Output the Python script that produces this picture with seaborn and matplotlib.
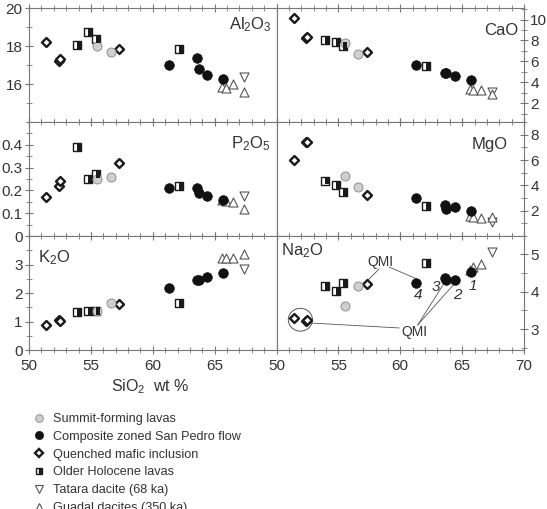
import numpy as np
import pandas as pd
import matplotlib
matplotlib.use("Agg")
import matplotlib.pyplot as plt
import seaborn as sns
from matplotlib.lines import Line2D
from matplotlib.markers import MarkerStyle
from matplotlib.patches import Ellipse
from matplotlib.ticker import MultipleLocator

# --- data ---------------------------------------------------------------
oxides = ["Al2O3", "CaO", "P2O5", "MgO", "K2O", "Na2O"]

qmi_sio2 = [51.4, 52.4, 52.5, 57.3]
qmi_vals = {
    "Al2O3": [18.2, 17.2, 17.3, 17.85],
    "CaO": [10.15, 8.25, 8.3, 6.9],
    "P2O5": [0.17, 0.22, 0.24, 0.32],
    "MgO": [6.0, 7.45, 7.4, 3.27],
    "K2O": [0.89, 1.06, 1.03, 1.62],
    "Na2O": [3.29, 3.22, 3.24, 4.2],
}

holo_sio2 = [53.9, 54.8, 55.4, 62.1]
holo_vals = {
    "Al2O3": [18.04, 18.74, 18.37, 17.84],
    "CaO": [8.07, 7.85, 7.5, 5.55],
    "P2O5": [0.39, 0.25, 0.27, 0.22],
    "MgO": [4.38, 4.0, 3.47, 2.37],
    "K2O": [1.32, 1.37, 1.38, 1.64],
    "Na2O": [4.15, 4.02, 4.22, 4.76],
}

summit_sio2 = [55.5, 56.6]
summit_vals = {
    "Al2O3": [18.02, 17.7],
    "CaO": [7.75, 6.7],
    "P2O5": [0.25, 0.26],
    "MgO": [4.71, 3.9],
    "K2O": [1.37, 1.66],
    "Na2O": [3.62, 4.15],
}

sp_sio2 = [61.3, 63.6, 63.7, 64.4, 65.7]
sp_vals = {
    "Al2O3": [16.98, 17.38, 16.77, 16.46, 16.26],
    "CaO": [5.65, 4.9, 4.85, 4.6, 4.2],
    "P2O5": [0.21, 0.21, 0.19, 0.175, 0.16],
    "MgO": [3.0, 2.44, 2.1, 2.3, 1.98],
    "K2O": [2.18, 2.47, 2.45, 2.55, 2.7],
    "Na2O": [4.24, 4.37, 4.3, 4.32, 4.52],
}

tatara_sio2 = [67.4]
tatara_vals = {
    "Al2O3": [16.38], "CaO": [3.05], "P2O5": [0.175],
    "MgO": [1.12], "K2O": [2.83], "Na2O": [5.07],
}

guadal_sio2 = [65.6, 65.9, 66.5, 67.4]
guadal_vals = {
    "Al2O3": [15.83, 15.77, 16.0, 15.58],
    "CaO": [3.35, 3.3, 3.24, 2.85],
    "P2O5": [0.16, 0.155, 0.15, 0.12],
    "MgO": [1.55, 1.5, 1.4, 1.48],
    "K2O": [3.23, 3.23, 3.23, 3.38],
    "Na2O": [4.58, 4.65, 4.73, np.nan],
}

groups = [
    ("Older Holocene lavas", holo_sio2, holo_vals),
    ("Quenched mafic inclusion", qmi_sio2, qmi_vals),
    ("Tatara dacite (68 ka)", tatara_sio2, tatara_vals),
    ("Guadal dacites (350 ka)", guadal_sio2, guadal_vals),
    ("Composite zoned San Pedro flow", sp_sio2, sp_vals),
    ("Summit-forming lavas", summit_sio2, summit_vals),
]

rows = []
for name, sio2, vals in groups:
    for ox in oxides:
        for s, v in zip(sio2, vals[ox]):
            rows.append({"group": name, "SiO2": s, "oxide": ox, "value": v})
df = pd.DataFrame(rows)

# --- styling --------------------------------------------------------------
sns.set_style("ticks")
plt.rcParams["font.family"] = ["Liberation Sans", "DejaVu Sans"]
plt.rcParams["mathtext.default"] = "regular"

INK = "#333333"
FRAME = "#777777"

styles = {
    "Summit-forming lavas": dict(marker="o", s=42, color="#cfcfcf", edgecolor="#8f8f8f", linewidth=0.7),
    "Composite zoned San Pedro flow": dict(marker="o", s=48, color="#111111", edgecolor="#111111", linewidth=0.5),
    "Quenched mafic inclusion": dict(marker="D", s=21, color="white", edgecolor="#1a1a1a", linewidth=1.7),
    "Older Holocene lavas": dict(marker="s", s=32, color="white", edgecolor="#1a1a1a", linewidth=1.0),
    "Tatara dacite (68 ka)": dict(marker="v", s=42, color="white", edgecolor="#555555", linewidth=0.8),
    "Guadal dacites (350 ka)": dict(marker="^", s=42, color="white", edgecolor="#555555", linewidth=0.8),
}

panel_cfg = {
    "Al2O3": dict(ylim=(14, 20), ticks=[16, 18, 20], minor=1, label="Al$_2$O$_3$", pos=(0.98, 0.85), ha="right"),
    "CaO": dict(ylim=(0.2, 11.1), ticks=[2, 4, 6, 8, 10], minor=1, label="CaO", pos=(0.976, 0.80), ha="right"),
    "P2O5": dict(ylim=(0, 0.5), ticks=[0, 0.1, 0.2, 0.3, 0.4], minor=0.05, label="P$_2$O$_5$", pos=(0.976, 0.81), ha="right"),
    "MgO": dict(ylim=(0, 9), ticks=[2, 4, 6, 8], minor=1, label="MgO", pos=(0.935, 0.80), ha="right"),
    "K2O": dict(ylim=(0, 4), ticks=[0, 1, 2, 3], minor=0.5, label="K$_2$O", pos=(0.036, 0.81), ha="left"),
    "Na2O": dict(ylim=(2.44, 5.49), ticks=[3, 4, 5], minor=0.5, label="Na$_2$O", pos=(0.02, 0.87), ha="left"),
}
tick_text = {"P2O5": ["0", "0.1", "0.2", "0.3", "0.4"]}

fig, axes = plt.subplots(3, 2, figsize=(5.47, 5.09), dpi=100)
fig.subplots_adjust(left=29 / 547, right=524 / 547, top=1 - 8 / 509, bottom=1 - 350 / 509,
                    wspace=0, hspace=0)

for ax, ox in zip(axes.flat, oxides):
    sub = df[df["oxide"] == ox]
    for name, _, _ in groups:
        g = sub[sub["group"] == name]
        st = dict(styles[name])
        sns.scatterplot(data=g, x="SiO2", y="value", ax=ax, legend=False, zorder=3, **st)
        if name == "Older Holocene lavas":
            # black right half on top of the open square
            sns.scatterplot(data=g, x="SiO2", y="value", ax=ax, legend=False, zorder=3.1,
                            marker=MarkerStyle("s", fillstyle="right"), s=st["s"],
                            color="#1a1a1a", edgecolor="none", linewidth=0)

    cfg = panel_cfg[ox]
    ax.set_xlim(50, 70)
    ax.set_ylim(*cfg["ylim"])
    ax.set_xlabel("")
    ax.set_ylabel("")
    ax.set_yticks(cfg["ticks"], tick_text.get(ox, [f"{t:g}" for t in cfg["ticks"]]))
    ax.yaxis.set_minor_locator(MultipleLocator(cfg["minor"]))
    ax.xaxis.set_minor_locator(MultipleLocator(1))
    ax.text(*cfg["pos"], cfg["label"], transform=ax.transAxes, ha=cfg["ha"], va="center",
            fontsize=12, color=INK)

    for sp in ax.spines.values():
        sp.set_visible(True)
        sp.set_color(FRAME)
        sp.set_linewidth(0.8)
    ax.tick_params(axis="x", which="both", direction="inout", top=True, bottom=True,
                   color=FRAME, labelsize=11, labelcolor=INK)
    ax.tick_params(axis="x", which="major", length=6)
    ax.tick_params(axis="x", which="minor", length=4)
    ax.tick_params(axis="y", which="both", direction="inout", color=FRAME,
                   labelsize=11, labelcolor=INK, pad=1.5)
    ax.tick_params(axis="y", which="major", length=6)
    ax.tick_params(axis="y", which="minor", length=4)

for ax in axes[:, 1]:
    ax.yaxis.tick_right()
    ax.yaxis.set_label_position("right")
for ax in axes[:2].flat:
    ax.tick_params(axis="x", labelbottom=False)
axes[2, 0].set_xticks([50, 55, 60, 65])
axes[2, 1].set_xticks([50, 55, 60, 65, 70])

# --- Na2O annotations -------------------------------------------------------
na = axes[2, 1]
ann = dict(color="#555555", lw=0.6, zorder=2)
na.add_patch(Ellipse((51.93, 3.25), 1.95, 0.61, fill=False, edgecolor="#555555", lw=0.7))
na.plot([52.87, 59.92], [3.16, 3.03], **ann)
na.plot([61.41, 63.44], [3.11, 4.17], **ann)
na.plot([61.41, 64.39], [3.11, 4.22], **ann)
na.plot([59.1, 61.28], [4.66, 4.35], **ann)
na.plot([58.29, 57.26], [4.61, 4.26], **ann)
na.text(61.14, 2.92, "QMI", ha="center", va="center", fontsize=10, color=INK)
na.text(58.43, 4.79, "QMI", ha="center", va="center", fontsize=10, color=INK)
for lab, x, y in [("4", 61.41, 3.91), ("3", 62.9, 4.13), ("2", 64.6, 3.91), ("1", 65.88, 4.15)]:
    na.text(x, y, lab, ha="center", va="center", fontsize=11, style="italic", color=INK)

fig.text(150 / 547, 1 - 387 / 509, "SiO$_2$  wt %", ha="center", va="center", fontsize=11.5, color=INK)

# --- legend -------------------------------------------------------------------
legend_order = ["Summit-forming lavas", "Composite zoned San Pedro flow", "Quenched mafic inclusion",
                "Older Holocene lavas", "Tatara dacite (68 ka)", "Guadal dacites (350 ka)"]
handles = []
for name in legend_order:
    st = styles[name]
    kw = dict(marker=st["marker"], linestyle="none", markersize=np.sqrt(st["s"]) * 0.85,
              markerfacecolor=st["color"], markeredgecolor=st["edgecolor"],
              markeredgewidth=st["linewidth"])
    if name == "Older Holocene lavas":
        kw.update(fillstyle="right", markerfacecolor="#1a1a1a", markerfacecoloralt="white")
    handles.append(Line2D([], [], **kw))
fig.legend(handles, legend_order, loc="upper left", bbox_to_anchor=(33 / 547, 1 - 413 / 509),
           frameon=False, fontsize=9.1, handlelength=1.0, handletextpad=0.55,
           labelspacing=0.46, borderpad=0, borderaxespad=0, labelcolor=INK)

fig.savefig("out.png", dpi=100)
